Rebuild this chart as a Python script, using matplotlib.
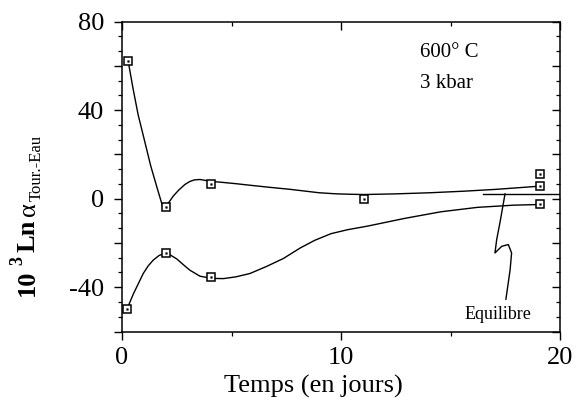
import numpy as np
import matplotlib
matplotlib.use("Agg")
import matplotlib.pyplot as plt
from matplotlib.ticker import MultipleLocator, FixedLocator

plt.rcParams['font.family'] = ['Liberation Serif', 'DejaVu Serif']

# mesures (carrés)
haut_x = [0.28, 2.0, 4.08, 11.07, 19.1, 19.1]
haut_y = [62.3, -3.6, 6.8, 0.0, 5.7, 11.0]
bas_x = [0.23, 2.0, 4.08, 19.1]
bas_y = [-49.8, -24.6, -35.5, -2.6]

# courbes tracées à la main
courbe_haut_x = [0.28, 0.5, 0.74, 1.0, 1.31, 1.6, 1.85, 1.98, 2.15, 2.34, 2.6, 2.88, 3.1, 3.3,
                 3.56, 3.8, 4.09, 4.47, 5.2, 5.84, 6.7, 7.67, 8.4, 9.0, 9.8, 10.5, 11.07,
                 12.5, 14.06, 15.6, 17.1, 19.1]
courbe_haut_y = [62.3, 50.0, 37.8, 27.4, 14.9, 5.0, -3.3, -3.9, -1.5, 1.2, 4.0, 6.5, 7.8, 8.5,
                 8.7, 8.3, 7.8, 7.5, 6.8, 6.1, 5.2, 4.25, 3.4, 2.7, 2.2, 2.0, 1.9,
                 2.2, 2.7, 3.4, 4.25, 5.7]
courbe_bas_x = [0.23, 0.52, 0.97, 1.2, 1.43, 1.7, 1.96, 2.2, 2.5, 2.8, 3.1, 3.56, 4.1,
                4.63, 5.2, 5.84, 6.6, 7.37, 8.13, 8.8, 9.54, 10.3, 11.2, 12.9, 14.56, 16.23,
                17.9, 19.1]
courbe_bas_y = [-49.8, -43.0, -33.8, -30.3, -27.7, -25.6, -24.7, -25.4, -27.2, -29.8,
                -32.3, -35.0, -36.0, -36.1, -35.3, -33.8, -30.6, -27.0, -22.3, -18.8,
                -15.8, -14.0, -12.4, -8.9, -5.9, -3.9, -2.9, -2.6]

# équilibre
equi_x = [16.5, 20.0]
equi_y = [2.2, 2.2]
fleche_x = [17.49, 17.26, 17.11, 17.03, 17.34, 17.64, 17.79, 17.72, 17.53]
fleche_y = [2.2, -10.7, -18.4, -24.5, -21.5, -20.7, -24.5, -32.3, -45.4]

W, H = 577, 407
fig = plt.figure(figsize=(W / 100, H / 100), dpi=100)
ax = fig.add_axes([122 / W, 1 - 331.5 / H, (560 - 122) / W, (331.5 - 21.7) / H])

ax.plot(courbe_haut_x, courbe_haut_y, color='black', lw=1.0)
ax.plot(courbe_bas_x, courbe_bas_y, color='black', lw=1.0)
ax.plot(equi_x, equi_y, color='black', lw=1.0)
ax.plot(fleche_x, fleche_y, color='black', lw=1.0)

for xs, ys in [(haut_x, haut_y), (bas_x, bas_y)]:
    ax.plot(xs, ys, 's', ms=5.8, mfc='white', mec='black', mew=1.1, ls='none')
    ax.plot(xs, ys, 's', ms=1.2, mfc='black', mec='black', mew=0.3, ls='none')

ax.set_xlim(0, 20)
ax.set_ylim(-60, 80)

ax.xaxis.set_major_locator(FixedLocator([0, 10, 20]))
ax.xaxis.set_minor_locator(FixedLocator([5, 15]))
ax.yaxis.set_major_locator(FixedLocator([-60, -40, -20, 0, 20, 40, 60, 80]))
ax.yaxis.set_minor_locator(MultipleLocator(20 / 3))
ax.set_yticklabels(['', '-40', '', '0', '', '40', '', '80'])

ax.tick_params(axis='both', which='major', labelsize=19, width=1.0, length=6)
ax.tick_params(axis='both', which='minor', width=0.9, length=3)
ax.tick_params(axis='x', which='both', direction='out', top=True, pad=5)
ax.tick_params(axis='y', which='both', direction='out', right=True, pad=7)
# ticks vers l'intérieur en haut et à droite
for t in ax.xaxis.get_ticklines(minor=False)[1::2] + ax.xaxis.get_ticklines(minor=True)[1::2]:
    t.set_marker(3)
for t in ax.yaxis.get_ticklines(minor=False)[1::2] + ax.yaxis.get_ticklines(minor=True)[1::2]:
    t.set_marker(0)
for s in ax.spines.values():
    s.set_linewidth(1.1)

ax.set_xlabel('Temps (en jours)', fontsize=19)
ax.xaxis.set_label_coords((313 - 122) / 438, -0.14)

ax.text(13.6, 66.3, '600° C', fontsize=15, ha='left', va='center')
ax.text(13.6, 52.0, '3 kbar', fontsize=15, ha='left', va='center')
ax.text(17.15, -52.5, 'Equilibre', fontsize=13, ha='center', va='center')

# étiquette de l'axe y en morceaux
def ftext(px, py, s, **kw):
    fig.text(px / W, 1 - py / H, s, rotation=90, ha='center', va='bottom', **kw)

ftext(27.6, 296, '10', fontsize=19, fontweight='bold')
ftext(17.5, 265, '3', fontsize=13, fontweight='bold')
ftext(27.6, 252, 'Ln', fontsize=19, fontweight='bold')
ftext(29.0, 216, 'α', fontsize=19)
ftext(37.0, 201, 'Tour.-Eau', fontsize=12)

fig.savefig('out.png', dpi=100)
